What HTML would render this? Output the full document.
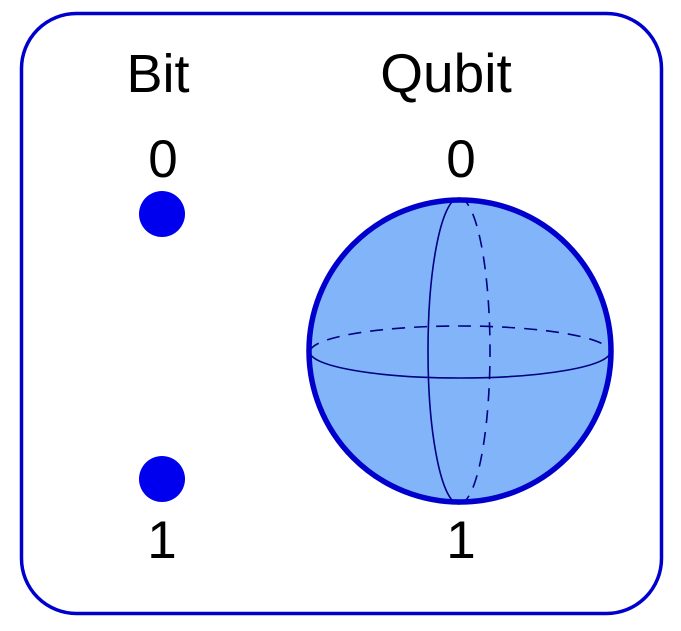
<!DOCTYPE html>
<html><head><meta charset="utf-8"><style>
html,body{margin:0;padding:0;background:#fff;width:681px;height:631px;overflow:hidden}
text{font-family:"Liberation Sans",Arial,sans-serif;fill:#000}
</style></head><body>
<svg width="681" height="631" viewBox="0 0 681 631" xmlns="http://www.w3.org/2000/svg">
<rect x="21.5" y="13.5" width="640" height="600" rx="55" ry="55" fill="#fff" stroke="#0000cc" stroke-width="3.5"/>
<text x="158" y="92" font-size="54" text-anchor="middle">Bit</text>
<text x="446" y="92" font-size="55" text-anchor="middle">Qubit</text>
<text x="163" y="177" font-size="53" text-anchor="middle">0</text>
<text x="461" y="177" font-size="53" text-anchor="middle">0</text>
<text x="162" y="558" font-size="53" text-anchor="middle">1</text>
<text x="461" y="558" font-size="53" text-anchor="middle">1</text>
<circle cx="162" cy="214" r="23" fill="#0000ee"/>
<circle cx="162" cy="479" r="23" fill="#0000ee"/>
<circle cx="460" cy="351" r="151" fill="#82b4fa"/>
<g fill="none" stroke="#000080" stroke-width="1.6">
<path d="M310 352 A150 26 0 0 1 610 352" stroke-dasharray="13 9"/>
<path d="M310 352 A150 26 0 0 0 610 352"/>
<path d="M459 198 A31 153 0 0 0 459 504"/>
<path d="M459 198 A31 153 0 0 1 459 504" stroke-dasharray="13 9"/>
</g>
<circle cx="460" cy="351" r="151" fill="none" stroke="#0000cc" stroke-width="5.5"/>
</svg>
</body></html>
